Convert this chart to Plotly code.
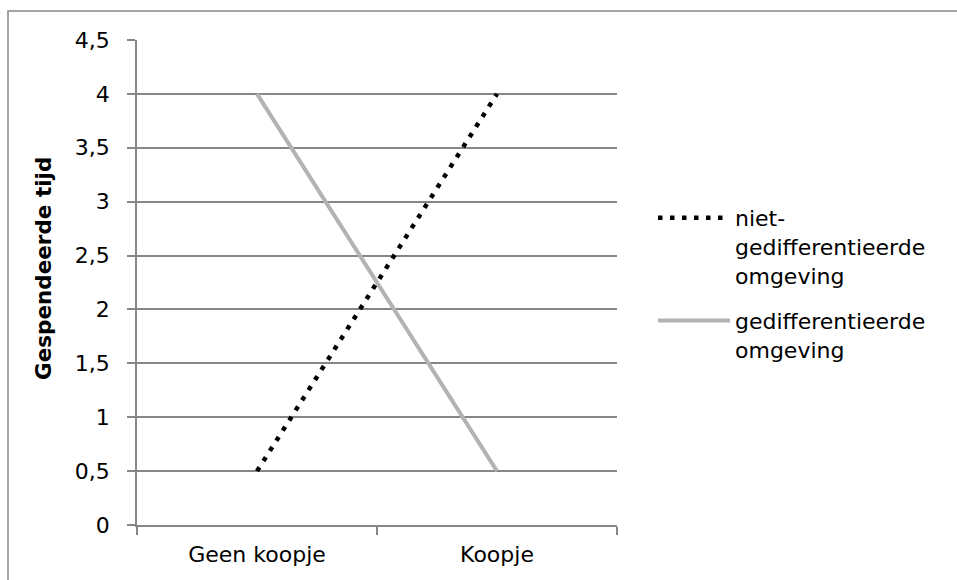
import plotly.graph_objects as go

# Data
categories = ["Geen koopje", "Koopje"]
niet_gedifferentieerd = [0.5, 4.0]
gedifferentieerd = [4.0, 0.5]
series_names = ["niet-<br>gedifferentieerde<br>omgeving", "gedifferentieerde<br>omgeving"]
y_title = "Gespendeerde tijd"

W, H = 957, 580
L, R, T, B = 137, 617, 40, 525
grid_col = "#868686"
font_fam = "DejaVu Sans, Verdana, sans-serif"
fs = 22

fig = go.Figure()
fig.add_trace(go.Scatter(
    x=categories, y=niet_gedifferentieerd, mode="lines", name=series_names[0],
    legendgroup="g1",
    line=dict(color="black", width=4.5, dash="4.5px,7.5px"),
))
fig.add_trace(go.Scatter(
    x=categories, y=gedifferentieerd, mode="lines", name=series_names[1],
    legendgroup="g2",
    line=dict(color="#b3b3b3", width=4),
))

def px_x(p):
    return (p - L) / (R - L)

def px_y(p):
    return (B - p) / (B - T)

# Outer chart border (right and bottom edges fall outside the page)
fig.add_shape(type="rect", xref="paper", yref="paper",
              x0=px_x(8), x1=px_x(W + 20), y0=px_y(H + 20), y1=px_y(11),
              line=dict(color=grid_col, width=1.5), fillcolor="rgba(0,0,0,0)",
              layer="below")

# Vertical axis title
fig.add_annotation(
    text="<b>" + y_title + "</b>", textangle=-90, showarrow=False,
    xref="paper", yref="paper", x=px_x(43), y=px_y(269),
    xanchor="center", yanchor="middle",
    font=dict(size=21.5, family=font_fam, color="black"),
)

fig.update_layout(
    width=W, height=H,
    margin=dict(l=L, r=W - R, t=T, b=H - B, pad=0),
    paper_bgcolor="white", plot_bgcolor="white",
    separators=",.",
    font=dict(family=font_fam, size=fs, color="black"),
    showlegend=True,
    legend=dict(
        x=px_x(653), y=px_y(197), xanchor="left", yanchor="top",
        itemwidth=72, valign="top", tracegroupgap=14,
        font=dict(size=fs, family=font_fam, color="black"),
        bgcolor="rgba(0,0,0,0)",
    ),
    xaxis=dict(
        type="category", range=[-0.5, 1.5], tickson="boundaries",
        showline=True, linecolor=grid_col, linewidth=1.5,
        ticks="outside", ticklen=8, tickcolor=grid_col, tickwidth=1.5,
        showgrid=False, zeroline=False, ticklabelstandoff=9,
        tickfont=dict(size=fs),
    ),
    yaxis=dict(
        range=[0, 4.5], dtick=0.5, tick0=0,
        showline=True, linecolor=grid_col, linewidth=1.5,
        ticks="outside", ticklen=8, tickcolor=grid_col, tickwidth=1.5,
        showgrid=True, gridcolor=grid_col, gridwidth=1.5, zeroline=False,
        ticklabelstandoff=13,
        tickfont=dict(size=fs),
    ),
)

fig.write_html("out.html")
